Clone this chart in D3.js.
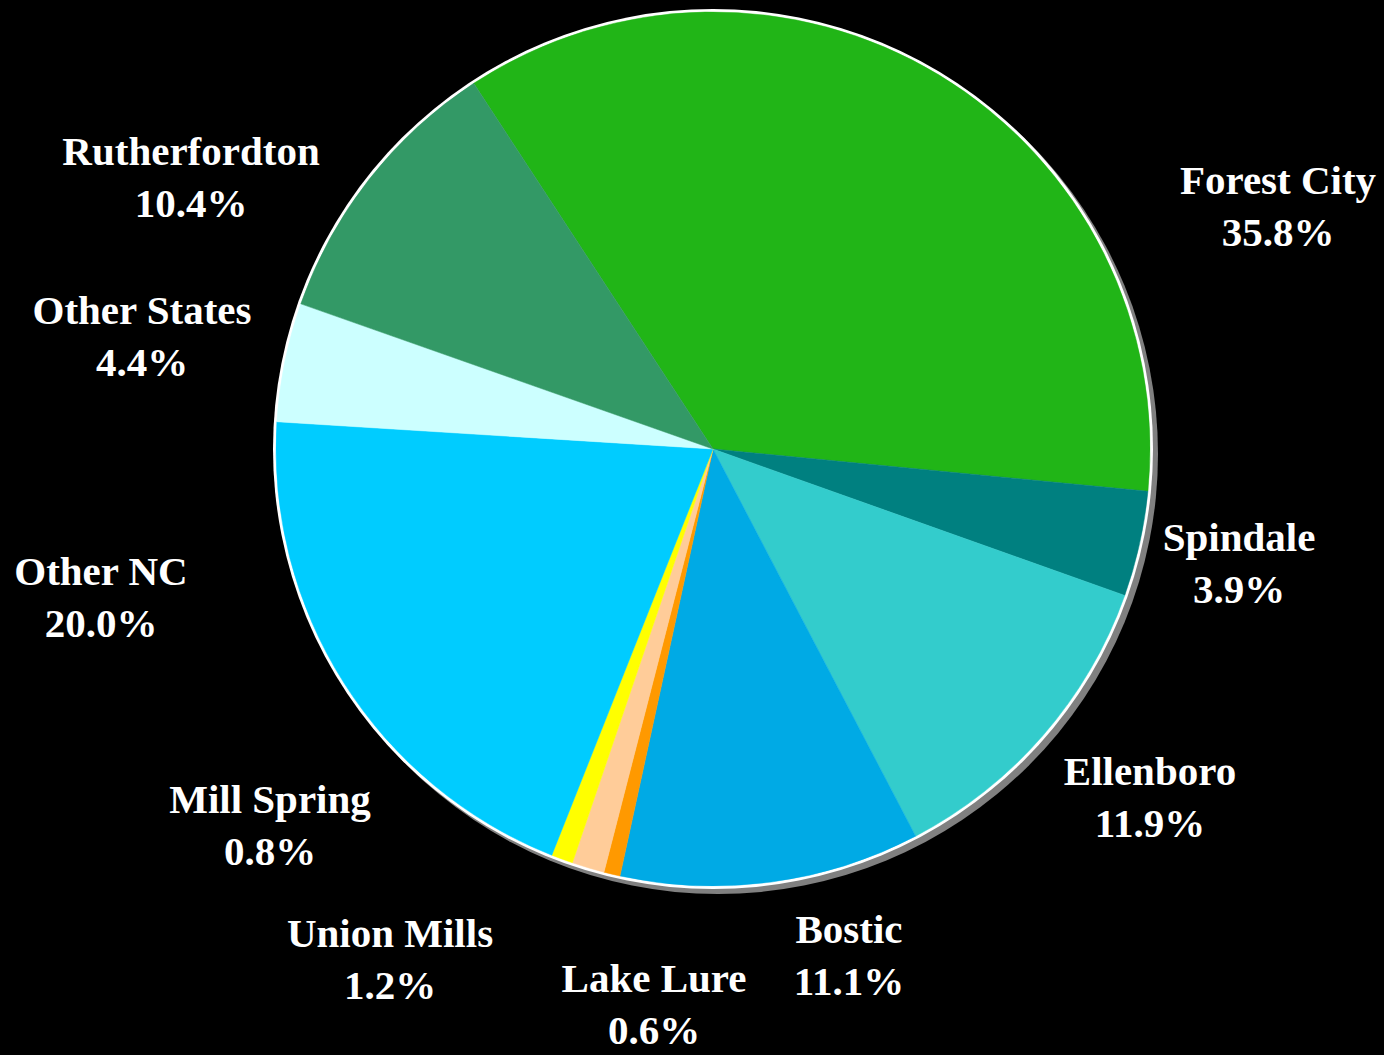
<!DOCTYPE html>
<html>
<head>
<meta charset="utf-8">
<script src="https://cdn.jsdelivr.net/npm/d3@7"></script>
<style>
  html, body { margin: 0; padding: 0; background: #000; }
  svg { display: block; }
</style>
</head>
<body>
<svg id="chart" width="1384" height="1055"></svg>
<script>
// Share of residents by town, clockwise from Forest City
const categories = ["Forest City", "Spindale", "Ellenboro", "Bostic", "Lake Lure",
                    "Union Mills", "Mill Spring", "Other NC", "Other States", "Rutherfordton"];
const shares = [35.8, 3.9, 11.9, 11.1, 0.6, 1.2, 0.8, 20.0, 4.4, 10.4];
const colors = ["#21B517", "#008080", "#33CCCC", "#00AAE5", "#FF9900",
                "#FFCC99", "#FFFF00", "#00CCFF", "#CCFFFF", "#339966"];

// Label anchor points (centre of the two-line label, first baseline)
const labelPos = {
  "Forest City":   [1278, 194],
  "Spindale":      [1239, 551],
  "Ellenboro":     [1150, 785],
  "Bostic":        [849, 943],
  "Lake Lure":     [654, 992],
  "Union Mills":   [390, 947],
  "Mill Spring":   [270, 813],
  "Other NC":      [101, 585],
  "Other States":  [142, 324],
  "Rutherfordton": [191, 165]
};

const cx = 713, cy = 449, r = 437;
const start = -33.2 * Math.PI / 180;

const svg = d3.select("#chart");
const g = svg.append("g").attr("transform", `translate(${cx},${cy})`);

const pie = d3.pie().sort(null).value(d => d)
  .startAngle(start).endAngle(start + 2 * Math.PI);
const arcs = pie(shares);
const arc = d3.arc().innerRadius(0).outerRadius(r);

// drop shadow
g.append("circle").attr("cx", 5).attr("cy", 5).attr("r", r + 3).attr("fill", "#808080");
// white rim
g.append("circle").attr("r", r + 3).attr("fill", "#FFFFFF");

g.selectAll("path.slice").data(arcs).join("path")
  .attr("class", "slice")
  .attr("d", arc)
  .attr("fill", (d, i) => colors[i])
  .attr("stroke", (d, i) => colors[i])
  .attr("stroke-width", 0.5);

const fmt = d3.format(".1f");
const labels = svg.append("g")
  .attr("font-family", "'Liberation Serif', 'Times New Roman', serif")
  .attr("font-weight", "bold")
  .attr("font-size", 41)
  .attr("fill", "#FFFFFF")
  .attr("text-anchor", "middle");

categories.forEach((c, i) => {
  const [x, y] = labelPos[c];
  const t = labels.append("text").attr("x", x).attr("y", y);
  t.append("tspan").attr("x", x).text(c);
  t.append("tspan").attr("x", x).attr("dy", 52).text(fmt(shares[i]) + "%");
});
</script>
</body>
</html>
